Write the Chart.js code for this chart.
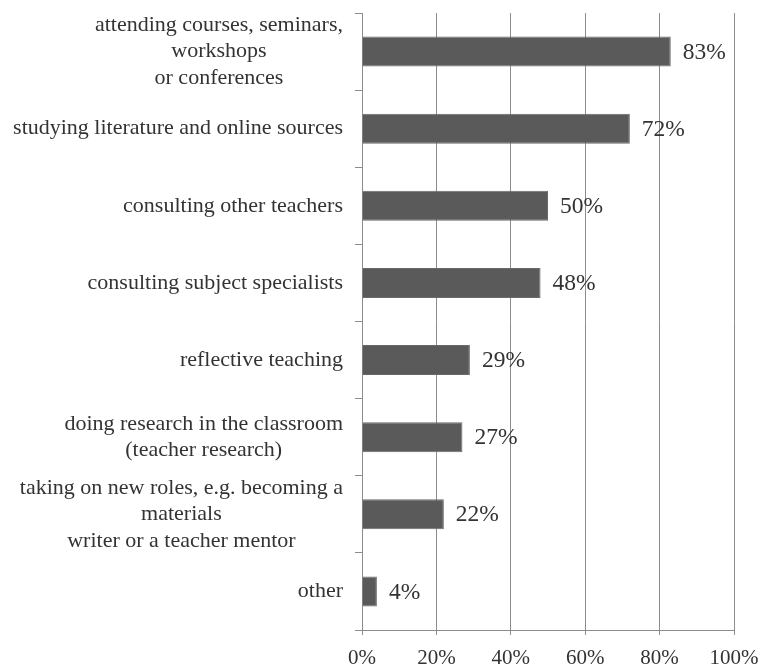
<!DOCTYPE html>
<html>
<head>
<meta charset="utf-8">
<script src="https://cdn.jsdelivr.net/npm/chart.js@4/dist/chart.umd.min.js"></script>
<style>
  html, body { margin: 0; padding: 0; background: #fff; }
  #wrap { width: 763px; height: 665px; }
</style>
</head>
<body>
<div id="wrap"><canvas id="chart-cpd"></canvas></div>
<script>
  // ways teachers keep up their professional development (share of respondents)
  const categories = [
    ["attending courses, seminars,", "workshops", "or conferences"],
    ["studying literature and online sources"],
    ["consulting other teachers"],
    ["consulting subject specialists"],
    ["reflective teaching"],
    ["doing research in the classroom", "(teacher research)"],
    ["taking on new roles, e.g. becoming a", "materials", "writer or a teacher mentor"],
    ["other"],
  ];
  const shares = [83, 72, 50, 48, 29, 27, 22, 4];
  const percentTicks = [0, 20, 40, 60, 80, 100];

  const SERIF = '"Liberation Serif", "Times New Roman", serif';
  const TEXT = "#333333";
  const LINE = "#8c8c8c";

  // category names: right-aligned block, each line centred inside it
  const categoryLabels = {
    id: "categoryLabels",
    afterDraw(chart) {
      const ctx = chart.ctx;
      const y = chart.scales.y;
      const right = chart.chartArea.left - 19;
      const lineHeight = 26.5;
      ctx.save();
      ctx.font = "22px " + SERIF;
      ctx.fillStyle = TEXT;
      ctx.textAlign = "center";
      ctx.textBaseline = "middle";
      categories.forEach((lines, i) => {
        const widest = Math.max(...lines.map((l) => ctx.measureText(l).width));
        const cx = right - widest / 2;
        const cy = y.getPixelForValue(i);
        const top = cy - (lines.length - 1) * lineHeight / 2;
        lines.forEach((l, k) => ctx.fillText(l, cx, top + k * lineHeight));
      });
      ctx.restore();
    },
  };

  // percentage printed just past the end of each bar
  const valueLabels = {
    id: "valueLabels",
    afterDatasetsDraw(chart) {
      const ctx = chart.ctx;
      const bars = chart.getDatasetMeta(0).data;
      ctx.save();
      ctx.font = "23.5px " + SERIF;
      ctx.fillStyle = TEXT;
      ctx.textAlign = "left";
      ctx.textBaseline = "middle";
      bars.forEach((bar, i) => ctx.fillText(shares[i] + "%", bar.x + 12, bar.y + 1));
      ctx.restore();
    },
  };

  new Chart(document.getElementById("chart-cpd"), {
    type: "bar",
    data: {
      labels: categories.map((c) => c.join(" ")),
      datasets: [{
        data: shares,
        backgroundColor: "#5a5a5a",
        borderColor: "#6a6a6a",
        borderWidth: 1,
        barPercentage: 0.39,
        categoryPercentage: 1,
      }],
    },
    options: {
      indexAxis: "y",
      responsive: true,
      maintainAspectRatio: false,
      animation: false,
      layout: { padding: { top: 13, right: 29, left: 0, bottom: 0 } },
      plugins: { legend: { display: false }, tooltip: { enabled: false } },
      scales: {
        x: {
          min: 0,
          max: 100,
          afterBuildTicks(scale) {
            scale.ticks = percentTicks.map((v) => ({ value: v }));
          },
          afterFit(scale) {
            scale.height = 35;
            // the end labels may hang past the plot; the page margin holds them
            scale.paddingLeft = 0;
            scale.paddingRight = 0;
          },
          ticks: {
            color: TEXT,
            font: { family: SERIF, size: 21 },
            padding: 11,
            maxRotation: 0,
            callback: (v) => v + "%",
          },
          grid: { color: LINE, lineWidth: 1, tickLength: 5, drawTicks: true },
          border: { color: LINE, width: 1 },
        },
        y: {
          afterFit(scale) { scale.width = 362; },
          ticks: { display: false },
          grid: { offset: true, drawOnChartArea: false, color: LINE, tickLength: 7 },
          border: { color: LINE, width: 1 },
        },
      },
    },
    plugins: [categoryLabels, valueLabels],
  });
</script>
</body>
</html>
